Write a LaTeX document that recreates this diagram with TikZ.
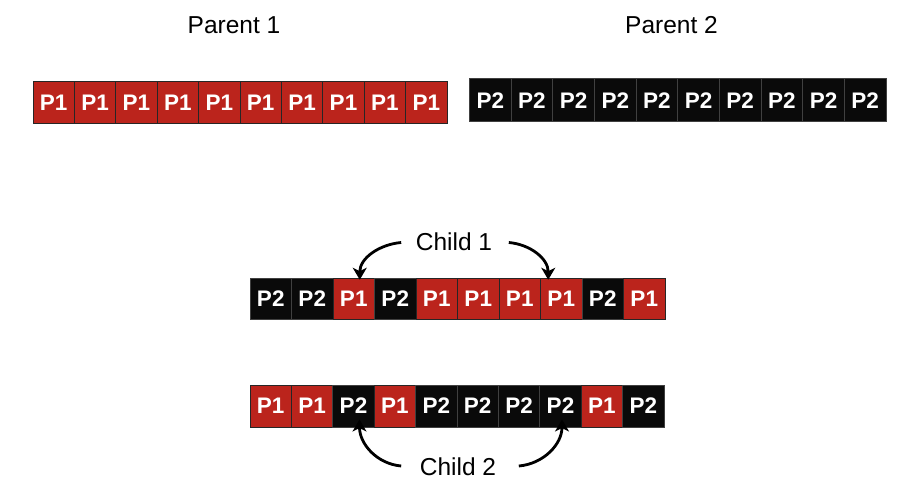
\documentclass[tikz,border=0pt]{standalone}
\usepackage{fontspec}
\setmainfont{Liberation Sans}
\usetikzlibrary{arrows.meta}
\definecolor{cred}{RGB}{187,36,28}
\definecolor{cblk}{RGB}{10,10,10}
\begin{document}
\begin{tikzpicture}[x=1pt,y=-1pt,
  cellr/.style={draw=black!85, line width=1pt, fill=cred, text=white,
    font=\bfseries\fontsize{22.5}{22.5}\selectfont, minimum width=41.4pt,
    minimum height=41.5pt, inner sep=0pt, anchor=center},
  cellb/.style={cellr, fill=cblk, draw=black!75},
  lbl/.style={font=\fontsize{24.5}{25}\selectfont, inner sep=0pt, anchor=center},
  arr/.style={-{Stealth[length=12pt,width=14pt,inset=3.5pt]}, line width=2.8pt}]
\useasboundingbox (0,0) rectangle (912,502);
% Parent labels
\node[lbl] (lp1) at (234,25.5) {Parent 1};
\node[lbl] (lp2) at (671.5,25.5) {Parent 2};
% Parent 1
\foreach \i in {1,...,10}
  \node[cellr] (pa\i) at ({33+41.4*(\i-0.5)},102.5) {P1};
% Parent 2
\foreach \i in {1,...,10}
  \node[cellb, minimum width=41.65pt, minimum height=43pt] (pb\i) at ({469.5+41.65*(\i-0.5)},100.5) {P2};
% Child 1
\foreach \t/\s [count=\i] in {b/P2,b/P2,r/P1,b/P2,r/P1,r/P1,r/P1,r/P1,b/P2,r/P1}
  \node[cell\t, minimum width=41.5pt] (ca\i) at ({250+41.5*(\i-0.5)},299) {\s};
% Child 2
\foreach \t/\s [count=\i] in {r/P1,r/P1,b/P2,r/P1,b/P2,b/P2,b/P2,b/P2,r/P1,b/P2}
  \node[cell\t, minimum height=42pt] (cb\i) at ({250+41.4*(\i-0.5)},406) {\s};
% Child labels
\node[lbl] (lc1) at (454,241.5) {Child 1};
\node[lbl] (lc2) at (458,467) {Child 2};
% Arrows
\draw[arr] ([xshift=-14.5pt,yshift=-1pt]lc1.west) to[out=185,in=90] ([xshift=6pt,yshift=-2pt]ca3.north);
\draw[arr] ([xshift=16.5pt,yshift=-1pt]lc1.east) to[out=-5,in=90] ([xshift=-13pt,yshift=-2pt]ca8.north);
\draw[arr] ([xshift=-18.5pt,yshift=1pt]lc2.west) to[out=175,in=-90] ([xshift=6pt,yshift=8pt]cb3.south);
\draw[arr] ([xshift=22.5pt,yshift=1pt]lc2.east) to[out=5,in=-90] ([xshift=1.5pt,yshift=8pt]cb8.south);
\end{tikzpicture}
\end{document}
